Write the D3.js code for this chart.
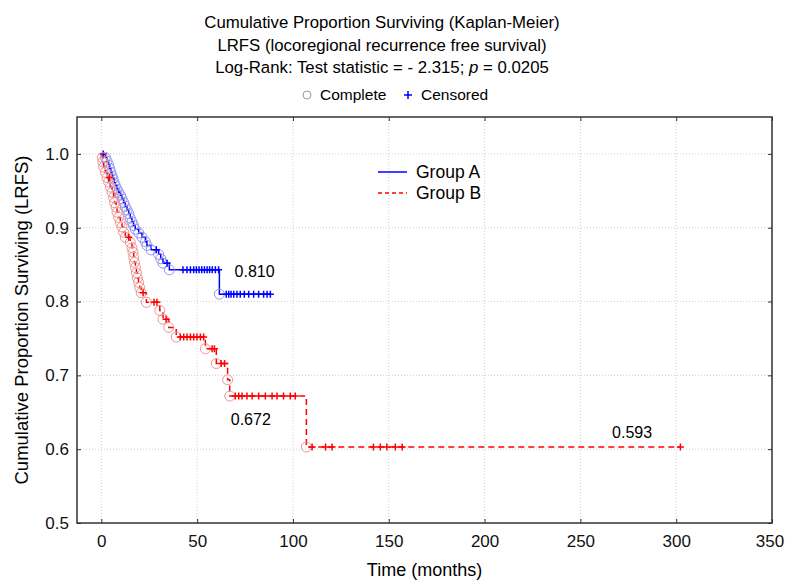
<!DOCTYPE html>
<html>
<head>
<meta charset="utf-8">
<script src="https://cdn.jsdelivr.net/npm/d3@7"></script>
<style>
  body { margin: 0; background: #fff; }
  svg { display: block; font-family: "Liberation Sans", Arial, sans-serif; }
  .grid line { stroke: #cfcfcf; stroke-dasharray: 1,2; }
  .axis text { font-size: 17px; fill: #111; }
  .axis line { stroke: #333; }
</style>
</head>
<body>
<div id="chart"></div>
<script>
// Kaplan-Meier step data: [time (months), survival]
const titleLines = [
  'Cumulative Proportion Surviving (Kaplan-Meier)',
  'LRFS (locoregional recurrence free survival)'
];
const xTicks = [0, 50, 100, 150, 200, 250, 300, 350];
const yTicks = [0.5, 0.6, 0.7, 0.8, 0.9, 1.0];

const groupAEvents = [
  [2.1, 0.995], [3.0, 0.990], [3.8, 0.985], [4.4, 0.980], [5.0, 0.975], [5.6, 0.970],
  [6.1, 0.966], [6.7, 0.961], [7.3, 0.957], [8.2, 0.952], [9.0, 0.948], [10.0, 0.944],
  [10.8, 0.939], [11.7, 0.934], [12.5, 0.929], [13.4, 0.924], [14.3, 0.919], [15.1, 0.913],
  [16.0, 0.908], [16.8, 0.903], [17.7, 0.898], [19.5, 0.893], [21.2, 0.887], [23.0, 0.881],
  [23.8, 0.876], [26.0, 0.870], [29.9, 0.864], [31.0, 0.858], [32.2, 0.852], [35.5, 0.843],
  [61.6, 0.810]
];
const groupACensored = [
  [1.0, 1.0], [28.7, 0.870], [34.3, 0.852],
  [42.6, 0.843], [44.7, 0.843], [46.5, 0.843], [48.2, 0.843], [49.6, 0.843], [51.0, 0.843],
  [52.4, 0.843], [53.8, 0.843], [55.2, 0.843], [56.5, 0.843], [57.9, 0.843], [59.5, 0.843],
  [61.2, 0.843],
  [65.2, 0.810], [66.5, 0.810], [67.7, 0.810], [69.1, 0.810], [70.8, 0.810], [72.5, 0.810],
  [74.6, 0.810], [76.9, 0.810], [79.5, 0.810], [82.1, 0.810], [84.7, 0.810], [86.5, 0.810],
  [88.2, 0.810]
];

const groupBEvents = [
  [0.5, 0.995], [0.8, 0.989], [1.2, 0.982], [2.1, 0.975], [3.0, 0.968], [3.8, 0.962],
  [4.7, 0.955], [5.6, 0.948], [6.4, 0.941], [6.9, 0.934], [7.7, 0.928], [8.2, 0.921],
  [9.0, 0.914], [9.9, 0.907], [10.8, 0.901], [11.6, 0.894], [12.5, 0.887], [15.1, 0.880],
  [16.0, 0.873], [16.5, 0.867], [16.9, 0.860], [17.3, 0.853], [17.8, 0.846], [18.3, 0.839],
  [18.8, 0.832], [19.4, 0.826], [20.0, 0.819], [20.8, 0.812], [23.5, 0.799], [30.5, 0.788],
  [32.2, 0.776], [35.2, 0.765], [39.1, 0.752], [54.3, 0.736], [60.0, 0.716], [65.9, 0.694],
  [67.0, 0.672], [107.0, 0.603]
];
const groupBCensored = [
  [4.2, 0.968], [14.3, 0.887], [21.8, 0.812], [27.5, 0.799], [29.0, 0.799], [33.8, 0.776],
  [41.2, 0.752], [43.0, 0.752], [44.7, 0.752], [46.5, 0.752], [48.2, 0.752], [49.9, 0.752],
  [51.7, 0.752], [53.4, 0.752], [57.8, 0.736], [59.0, 0.736], [62.5, 0.716], [64.3, 0.716],
  [69.9, 0.672], [71.7, 0.672], [73.4, 0.672], [76.0, 0.672], [78.7, 0.672], [82.1, 0.672],
  [85.6, 0.672], [89.1, 0.672], [91.7, 0.672], [95.1, 0.672], [98.6, 0.672], [101.2, 0.672],
  [110.0, 0.603], [117.0, 0.603], [120.4, 0.603], [142.0, 0.603], [145.6, 0.603],
  [149.0, 0.603], [153.4, 0.603], [157.0, 0.603], [302.2, 0.603]
];

const annotations = [
  { t: 80, s: 0.810, label: '0.810', dy: -23 },
  { t: 78, s: 0.672, label: '0.672', dy: 23 },
  { t: 277, s: 0.603, label: '0.593', dy: -15 }
];

const width = 785;
const height = 581;
const margin = { top: 117, right: 13, bottom: 58, left: 77 };

const svg = d3.select('#chart').append('svg')
  .attr('width', width)
  .attr('height', height);

const x = d3.scaleLinear().domain([-12.7, 350]).range([margin.left, width - margin.right]);
const y = d3.scaleLinear().domain([0.5, 1.05]).range([height - margin.bottom, margin.top]);

// grid
const grid = svg.append('g').attr('class', 'grid');
grid.selectAll('line.gx').data(xTicks).join('line')
  .attr('x1', (d) => x(d)).attr('x2', (d) => x(d))
  .attr('y1', y.range()[1]).attr('y2', y.range()[0]);
grid.selectAll('line.gy').data(yTicks.slice(1)).join('line')
  .attr('class', 'gy')
  .attr('x1', x.range()[0]).attr('x2', x.range()[1])
  .attr('y1', (d) => y(d)).attr('y2', (d) => y(d));

// axes with inward ticks, mirrored on top and right
const xAxis = svg.append('g').attr('class', 'axis')
  .attr('transform', `translate(0,${y.range()[0]})`)
  .call(d3.axisBottom(x).tickValues(xTicks).tickSizeInner(-4).tickSizeOuter(0).tickPadding(12));
// last label sits on the frame edge; nudge it so it stays inside the page
xAxis.selectAll('.tick text').filter((d) => d === 350).attr('dx', -2.5);
svg.append('g').attr('class', 'axis')
  .attr('transform', `translate(${x.range()[0]},0)`)
  .call(d3.axisLeft(y).tickValues(yTicks).tickFormat(d3.format('.1f')).tickSizeInner(-4).tickSizeOuter(0).tickPadding(8));
svg.append('g').attr('class', 'axis')
  .attr('transform', `translate(0,${y.range()[1]})`)
  .call(d3.axisTop(x).tickValues(xTicks).tickSizeInner(-4).tickSizeOuter(0).tickFormat(''));
svg.append('g').attr('class', 'axis')
  .attr('transform', `translate(${x.range()[1]},0)`)
  .call(d3.axisRight(y).tickValues(yTicks).tickSizeInner(-4).tickSizeOuter(0).tickFormat(''));
svg.selectAll('.axis .domain').remove();

svg.append('rect')
  .attr('x', x.range()[0]).attr('y', y.range()[1])
  .attr('width', x.range()[1] - x.range()[0])
  .attr('height', y.range()[0] - y.range()[1])
  .attr('fill', 'none').attr('stroke', '#333').attr('stroke-width', 1.5);

// step path
function stepPath(events, endTime) {
  let d = `M${x(0)},${y(1)}`;
  events.forEach(([t, v]) => {
    d += `H${x(t)}V${y(v)}`;
  });
  d += `H${x(endTime)}`;
  return d;
}

const series = [
  { name: 'Group A', events: groupAEvents, censored: groupACensored, end: 88.2, color: '#0000ff', circle: '#9494ec', dash: null },
  { name: 'Group B', events: groupBEvents, censored: groupBCensored, end: 302.2, color: '#ff0000', circle: '#ec9494', dash: '6,4' }
];

series.forEach((g) => {
  svg.append('path')
    .attr('d', stepPath(g.events, g.end))
    .attr('fill', 'none')
    .attr('stroke', g.color)
    .attr('stroke-width', 1.5)
    .attr('stroke-dasharray', g.dash);

  svg.append('g').selectAll('circle').data(g.events).join('circle')
    .attr('cx', (d) => x(d[0]))
    .attr('cy', (d) => y(d[1]))
    .attr('r', 5)
    .attr('fill', 'none')
    .attr('stroke', g.circle)
    .attr('stroke-width', 1);

  svg.append('g').selectAll('path').data(g.censored).join('path')
    .attr('d', (d) => `M${x(d[0]) - 3.5},${y(d[1])}h7M${x(d[0])},${y(d[1]) - 3.5}v7`)
    .attr('stroke', g.color)
    .attr('stroke-width', 1.5);
});

// value labels
svg.append('g').selectAll('text').data(annotations).join('text')
  .attr('x', (d) => x(d.t))
  .attr('y', (d) => y(d.s) + d.dy)
  .attr('dy', '0.35em')
  .attr('text-anchor', 'middle')
  .attr('font-size', 16)
  .text((d) => d.label);

// title
const title = svg.append('g').attr('font-size', 16.8).attr('text-anchor', 'middle');
titleLines.forEach((line, i) => {
  title.append('text').attr('x', 382).attr('y', 28 + i * 22.5).text(line);
});
const stat = title.append('text').attr('x', 382).attr('y', 73);
stat.append('tspan').text('Log-Rank: Test statistic = - 2.315; ');
stat.append('tspan').attr('font-style', 'italic').text('p');
stat.append('tspan').text(' = 0.0205');

// top legend
const topLegend = svg.append('g').attr('font-size', 15.5);
topLegend.append('circle').attr('cx', 307).attr('cy', 95).attr('r', 4)
  .attr('fill', 'none').attr('stroke', '#999');
topLegend.append('text').attr('x', 320).attr('y', 100).text('Complete');
topLegend.append('path').attr('d', 'M404,95h8M408,91v8').attr('stroke', '#0000ff').attr('stroke-width', 1.5);
topLegend.append('text').attr('x', 421).attr('y', 100).text('Censored');

// group legend
const legend = svg.append('g').attr('font-size', 17.5);
series.forEach((g, i) => {
  const ly = 172 + i * 21;
  legend.append('line').attr('x1', 378).attr('x2', 407).attr('y1', ly).attr('y2', ly)
    .attr('stroke', g.color).attr('stroke-width', 1.5).attr('stroke-dasharray', g.dash ? '4,3' : null);
  legend.append('text').attr('x', 416).attr('y', ly).attr('dy', '0.35em').text(g.name);
});

// axis titles
svg.append('text')
  .attr('x', (x.range()[0] + x.range()[1]) / 2)
  .attr('y', 576)
  .attr('text-anchor', 'middle')
  .attr('font-size', 18)
  .text('Time (months)');
svg.append('text')
  .attr('transform', `translate(28,${(y.range()[0] + y.range()[1]) / 2}) rotate(-90)`)
  .attr('text-anchor', 'middle')
  .attr('font-size', 18.5)
  .text('Cumulative Proportion Surviving (LRFS)');
</script>
</body>
</html>
